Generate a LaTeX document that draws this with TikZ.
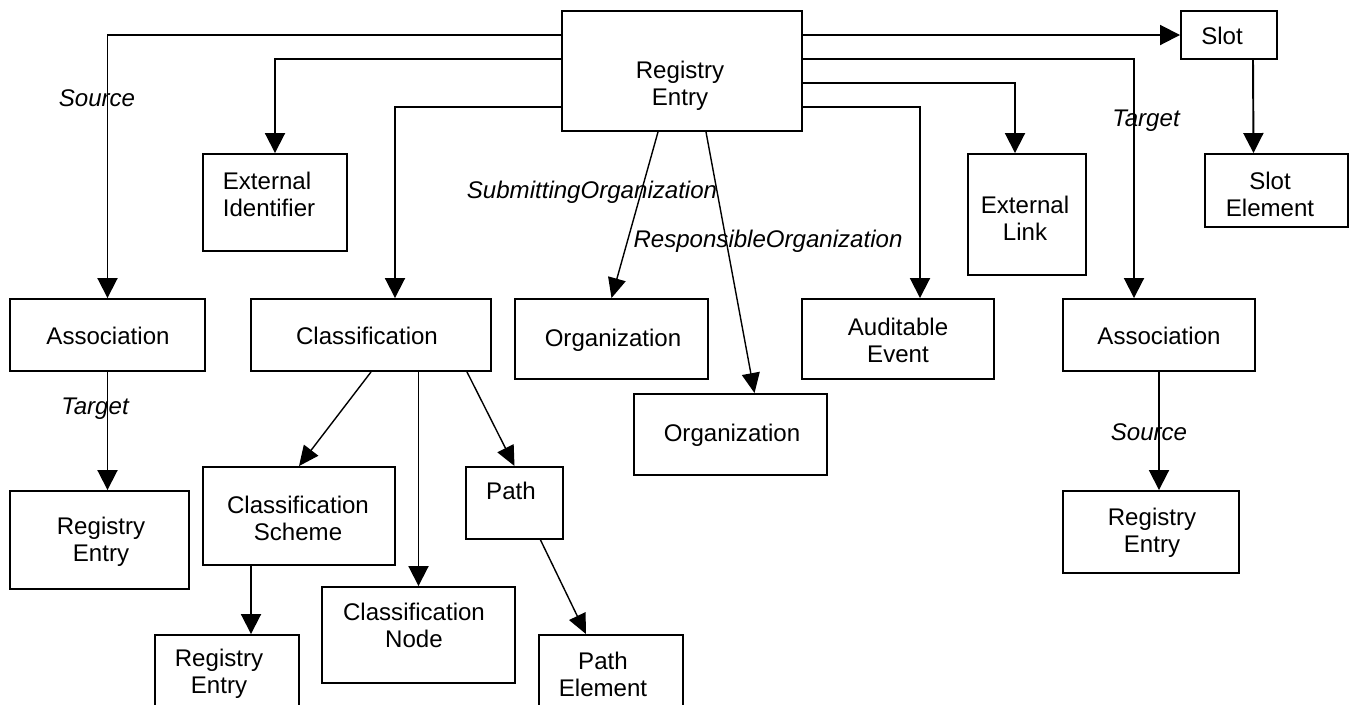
\documentclass[tikz,border=0pt]{standalone}
\usepackage{fontspec}
\setmainfont{Liberation Sans}
\usetikzlibrary{arrows.meta,calc,fit}

\begin{document}
\begin{tikzpicture}[x=0.02cm,y=-0.02cm,
  box/.style={draw,line width=1.1pt,inner sep=0pt},
  txt/.style={align=center,inner sep=0pt,font=\fontsize{13.7}{15.4}\selectfont},
  rol/.style={inner sep=0pt,font=\fontsize{13.7}{15.4}\selectfont\itshape},
  arr/.style={line width=1.1pt,-{Triangle[length=0.4cm,width=0.4cm]}},
  darr/.style={line width=0.8pt,-{Triangle[length=0.4cm,width=0.36cm]}}]

\useasboundingbox (0,0) rectangle (1357,704);
\clip (0,0) rectangle (1357,704);

\node[box,fit={(562,11) (802,131)}] (re) {};
\node[box,fit={(1181,11) (1277,59)}] (sl) {};
\node[box,fit={(1205,154) (1348,227)}] (se) {};
\node[box,fit={(203,154) (347,251)}] (ei) {};
\node[box,fit={(968,154) (1086,275)}] (el) {};
\node[box,fit={(10,299) (205,371)}] (al) {};
\node[box,fit={(251,299) (491,371)}] (cl) {};
\node[box,fit={(515,299) (708,379)}] (o1) {};
\node[box,fit={(802,299) (994,379)}] (ae) {};
\node[box,fit={(1063,299) (1255,371)}] (ar) {};
\node[box,fit={(634,394) (827,475)}] (o2) {};
\node[box,fit={(10,491) (189,589)}] (rl) {};
\node[box,fit={(203,467) (395,565)}] (cs) {};
\node[box,fit={(466,467) (563,539)}] (pa) {};
\node[box,fit={(322,587) (515,683)}] (cn) {};
\node[box,fit={(1063,491) (1239,573)}] (rr) {};
\node[box,fit={(155,635) (299,730)}] (rb) {};
\node[box,fit={(539,635) (683,730)}] (pe) {};

\node[txt] (re-t) at (680,86) {Registry\\Entry};
\node[txt] (sl-t) at (1222,36) {Slot};
\node[txt] (se-t) at (1270,194) {Slot\\Element};
\node[txt,align=left] (ei-t) at (269,194) {External\\Identifier};
\node[txt] (el-t) at (1025,218) {External\\Link};
\node[txt] (al-t) at (108,336) {Association};
\node[txt] (cl-t) at (367,336) {Classification};
\node[txt] (o1-t) at (613,340) {Organization};
\node[txt] (ae-t) at (898,340) {Auditable\\Event};
\node[txt] (ar-t) at (1159,336) {Association};
\node[txt] (o2-t) at (732,435) {Organization};
\node[txt] (rl-t) at (101,542) {Registry\\Entry};
\node[txt] (cs-t) at (298,518) {Classification\\Scheme};
\node[txt] (pa-t) at (511,491) {Path};
\node[txt] (cn-t) at (414,625) {Classification\\Node};
\node[txt] (rr-t) at (1152,533) {Registry\\Entry};
\node[txt] (rb-t) at (219,674) {Registry\\Entry};
\node[txt] (pe-t) at (603,674) {Path\\Element};

\node[rol] (src1) at (97,98) {Source};
\node[rol] (tgt1) at (95,409) {Target};
\node[rol] (sub) at (592,192) {SubmittingOrganization};
\node[rol] (rsp) at (768,241) {ResponsibleOrganization};
\node[rol] (tgt2) at (1146,121) {Target};
\node[rol] (src2) at (1149,432) {Source};

\draw[arr] (re.west |- 0,35) -| (al.north);
\draw[arr] (re.west |- 0,59) -| (ei.north);
\draw[arr] (re.west |- 0,107) -| ($(cl.north)+(24,0)$);
\draw[arr] (re.east |- sl.west) -- (sl.west);
\draw[arr] (re.east |- 0,59) -| ($(ar.north)+(-25,0)$);
\draw[arr] (re.east |- 0,83) -| ($(el.north)+(-12,0)$);
\draw[arr] (re.east |- 0,107) -| ($(ae.north)+(22,0)$);
\draw[arr] ($(sl.south)+(24,0)$) -- ($(se.north)+(-23,0)$);
\draw[darr] ($(re.south)+(-24,0)$) -- (o1.north);
\draw[darr] ($(re.south)+(24,0)$) -- ($(o2.north)+(24,0)$);
\draw[arr] (al.south) -- (al.south |- rl.north);
\draw[arr] (ar.south) -- (ar.south |- rr.north);
\draw[darr] (cl.south) -- (cs.north);
\draw[arr] (cl.south -| cn.north) -- (cn.north);
\draw[darr] ($(cl.south)+(96,0)$) -- (pa.north);
\draw[darr] ($(pa.south)+(26,0)$) -- ($(pe.north)+(-25,0)$);
\draw[arr] ($(cs.south)+(-48,0)$) -- ($(rb.north)+(24,0)$);
\end{tikzpicture}
\end{document}
